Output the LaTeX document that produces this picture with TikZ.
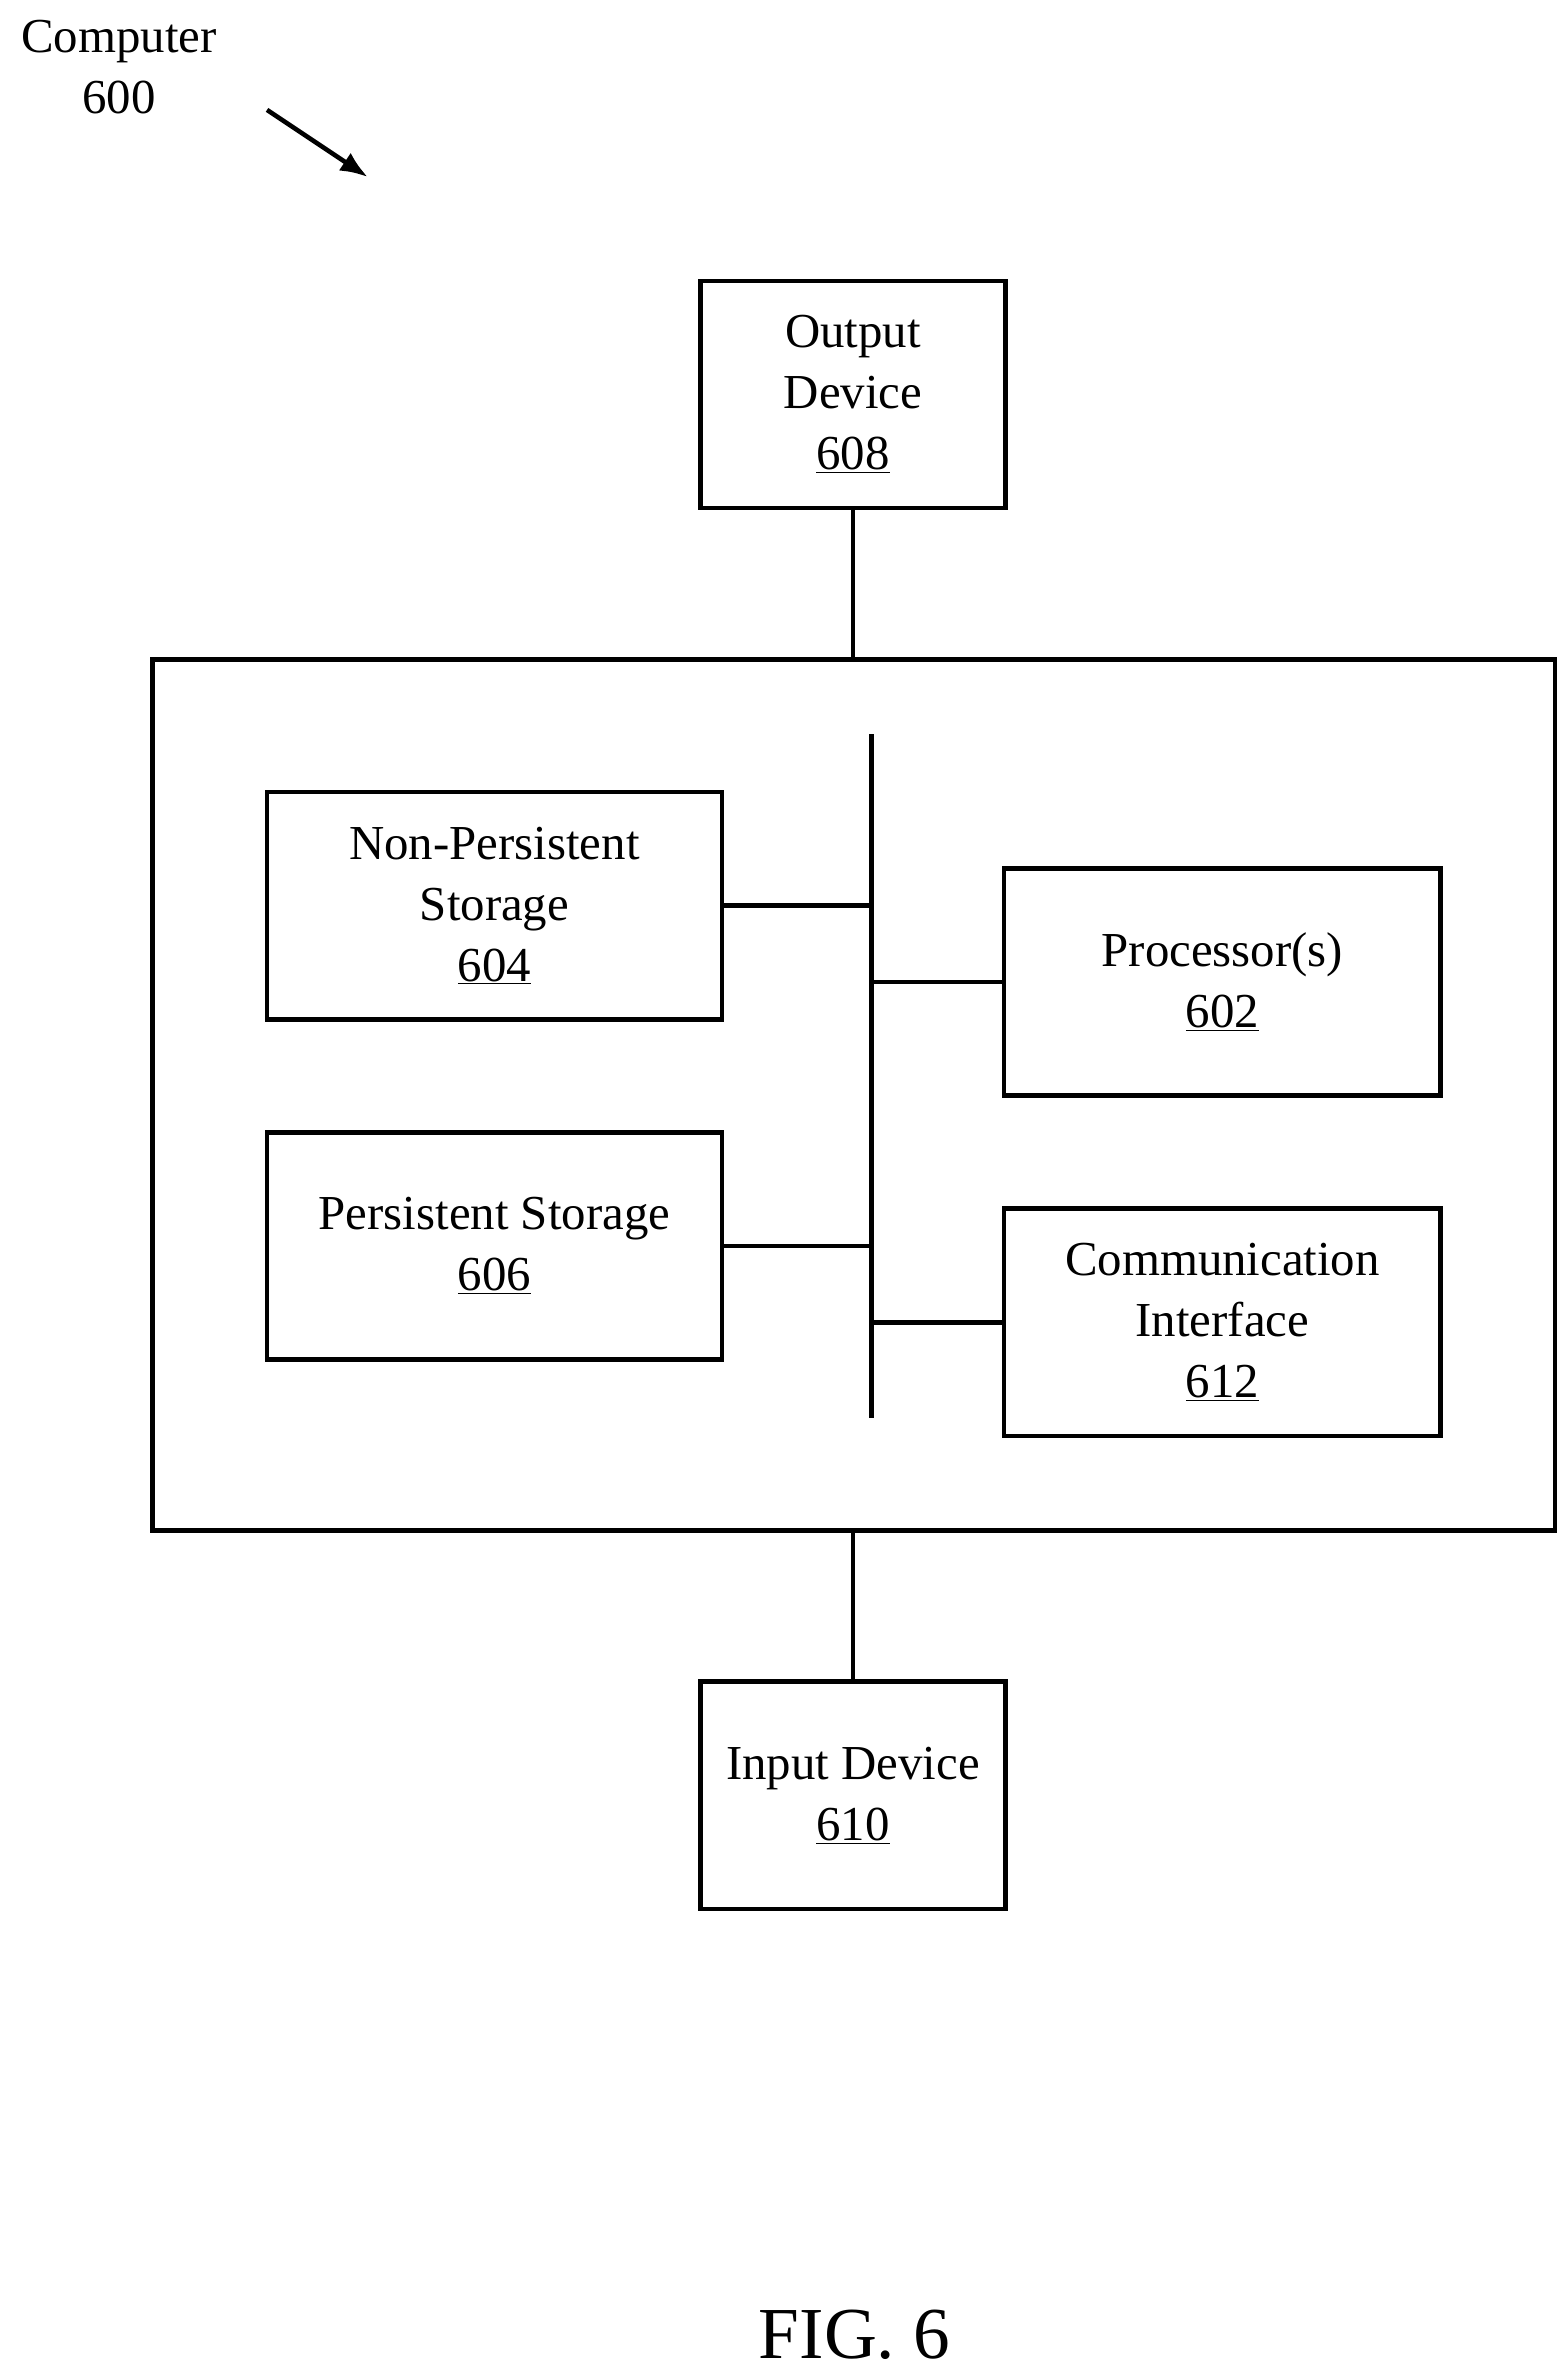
\documentclass[tikz,border=0pt]{standalone}
\usepackage{fontspec}
\setmainfont{Liberation Serif}
\usetikzlibrary{arrows.meta}
\begin{document}
\begin{tikzpicture}[x=1pt,y=-1pt,
  box/.style={draw,line width=3pt,align=center,inner sep=0pt,font=\fontsize{32}{40}\selectfont},
  wire/.style={line width=3pt},
  lbl/.style={align=center,font=\fontsize{32}{40}\selectfont}]
\useasboundingbox (0,0) rectangle (1024,1553);
\node[box,minimum width=200pt,minimum height=149pt] (out) at (559,258.5) {Output\\Device\\\underline{608}};
\draw[line width=3pt] (100,432) rectangle (1019,1003);
\coordinate (mtop) at (559,432);
\coordinate (mbot) at (559,1003);
\node[box,minimum width=298pt,minimum height=149pt] (np) at (324,593.5) {Non-Persistent\\Storage\\\underline{604}};
\node[box,minimum width=286pt,minimum height=149pt] (proc) at (801,643.5) {Processor(s)\\\underline{602}};
\node[box,minimum width=298pt,minimum height=149pt] (ps) at (324,816.5) {Persistent Storage\\\underline{606}};
\node[box,minimum width=286pt,minimum height=149pt] (comm) at (801,866.5) {Communication\\Interface\\\underline{612}};
\node[box,minimum width=200pt,minimum height=149pt] (in) at (559,1176.5) {Input Device\\\underline{610}};
\coordinate (b1) at (571,481);
\coordinate (b2) at (571,929);
\draw[wire] (b1) -- (b2);
\draw[wire] (out) -- (mtop);
\draw[wire] (in) -- (mbot);
\draw[wire] (np.east) -- (np.east -| b1);
\draw[wire] (ps.east) -- (ps.east -| b1);
\draw[wire] (proc.west) -- (proc.west -| b1);
\draw[wire] (comm.west) -- (comm.west -| b1);
\node[lbl] (comp) at (78,44) {Computer\\600};
\coordinate (a1) at (175,72);
\coordinate (a2) at (241,116);
\draw[line width=3pt,-{Latex[length=18pt,width=14pt]}] (a1) -- (a2);
\node[font=\fontsize{48}{50}\selectfont] (fig) at (560,1530) {FIG. 6};
\end{tikzpicture}
\end{document}
